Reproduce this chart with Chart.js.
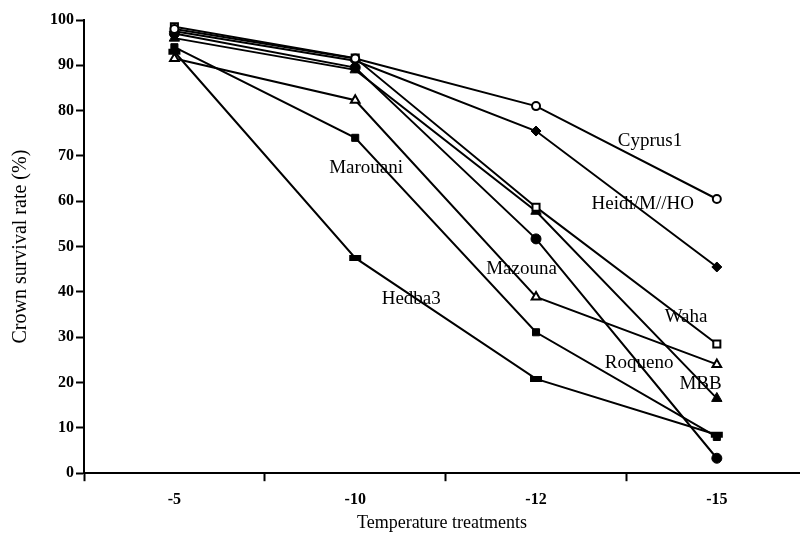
<!DOCTYPE html>
<html>
<head>
<meta charset="utf-8">
<script src="https://cdn.jsdelivr.net/npm/chart.js@4/dist/chart.umd.min.js"></script>
<style>
body { margin: 0; background: #fff; }
</style>
</head>
<body>
<canvas id="chartSurvival" width="800" height="533"></canvas>
<script>
var categories = ['-5', '-10', '-12', '-15'];

var cyprus1 = [98, 91.5, 81, 60.5];
var heidi = [97.5, 91, 75.5, 45.5];
var waha = [98.5, 91.6, 58.7, 28.5];
var roqueno = [91.5, 82.3, 38.9, 24];
var mbb = [96, 89, 57.8, 16.5];
var marouani = [94, 74, 31.1, 8];
var mazouna = [97, 89.5, 51.7, 3.3];
var hedba3 = [93, 47.5, 20.8, 8.5];

var yTicks = [0, 10, 20, 30, 40, 50, 60, 70, 80, 90, 100];

// text labels next to the lines, in data units (category index, %)
var lineLabels = [
    { text: 'Cyprus1', x: 2.63, y: 73.3 },
    { text: 'Heidi/M//HO', x: 2.59, y: 59.4 },
    { text: 'Waha', x: 2.83, y: 34.4 },
    { text: 'Roqueno', x: 2.57, y: 24.3 },
    { text: 'MBB', x: 2.91, y: 19.6 },
    { text: 'Marouani', x: 1.06, y: 67.3 },
    { text: 'Mazouna', x: 1.92, y: 45 },
    { text: 'Hedba3', x: 1.31, y: 38.4 }
];

function toPoints(arr) {
    return arr.map(function (v, i) { return { x: i, y: v }; });
}

function series(name, values, style, filled, radius, bw) {
    return {
        label: name,
        data: toPoints(values),
        borderColor: '#000',
        borderWidth: 2,
        pointStyle: style,
        pointRadius: radius,
        pointBorderWidth: bw,
        pointBorderColor: '#000',
        pointBackgroundColor: filled ? '#000' : '#fff',
        tension: 0
    };
}

var labelPlugin = {
    id: 'lineLabels',
    afterDatasetsDraw: function (chart) {
        var ctx = chart.ctx;
        ctx.save();
        ctx.font = '19px "Liberation Serif"';
        ctx.fillStyle = '#000';
        ctx.textAlign = 'center';
        ctx.textBaseline = 'middle';
        lineLabels.forEach(function (l) {
            ctx.fillText(l.text, chart.scales.x.getPixelForValue(l.x), chart.scales.y.getPixelForValue(l.y));
        });
        ctx.restore();
    }
};

var chartSurvival = new Chart(document.getElementById('chartSurvival'), {
    type: 'line',
    data: {
        datasets: [
            series('Cyprus1', cyprus1, 'circle', false, 4, 2),
            series('Waha', waha, 'rect', false, 5, 2),
            series('Roqueno', roqueno, 'triangle', false, 5, 2),
            series('Heidi/M//HO', heidi, 'rectRot', true, 5, 1),
            series('MBB', mbb, 'triangle', true, 6, 1),
            series('Marouani', marouani, 'rect', true, 5, 1),
            series('Mazouna', mazouna, 'circle', true, 5, 1),
            series('Hedba3', hedba3, 'line', true, 6, 6)
        ]
    },
    options: {
        responsive: false,
        animation: false,
        devicePixelRatio: 1,
        layout: {
            autoPadding: false,
            padding: { top: 20, right: 0, left: 9, bottom: -1 }
        },
        plugins: {
            legend: { display: false },
            tooltip: { enabled: false }
        },
        scales: {
            x: {
                type: 'linear',
                min: -0.5,
                max: 3.46,
                afterBuildTicks: function (axis) {
                    axis.ticks = [-0.5, 0, 0.5, 1, 1.5, 2, 2.5, 3].map(function (v) { return { value: v }; });
                },
                ticks: {
                    autoSkip: false,
                    maxRotation: 0,
                    padding: 9,
                    color: '#000',
                    font: { family: 'Liberation Serif', size: 16, weight: 'bold' },
                    callback: function (v) {
                        return Number.isInteger(v) ? categories[v] : '';
                    }
                },
                grid: {
                    drawOnChartArea: false,
                    tickLength: 8,
                    tickWidth: 2,
                    tickColor: function (c) {
                        return Number.isInteger(c.tick.value) ? 'rgba(0,0,0,0)' : '#000';
                    }
                },
                border: { color: '#000', width: 2 },
                title: {
                    display: true,
                    text: 'Temperature treatments',
                    color: '#000',
                    font: { family: 'Liberation Serif', size: 18 },
                    padding: { top: -6, bottom: 0 }
                }
            },
            y: {
                min: 0,
                max: 100,
                afterBuildTicks: function (axis) {
                    axis.ticks = yTicks.map(function (v) { return { value: v }; });
                },
                ticks: {
                    padding: 2,
                    color: '#000',
                    font: { family: 'Liberation Serif', size: 16, weight: 'bold' }
                },
                grid: {
                    drawOnChartArea: false,
                    tickLength: 8,
                    tickWidth: 2,
                    tickColor: '#000'
                },
                border: { color: '#000', width: 2 },
                title: {
                    display: true,
                    text: 'Crown survival rate (%)',
                    color: '#000',
                    font: { family: 'Liberation Serif', size: 20 },
                    padding: { top: 0, bottom: 15 }
                }
            }
        }
    },
    plugins: [labelPlugin]
});
</script>
</body>
</html>
